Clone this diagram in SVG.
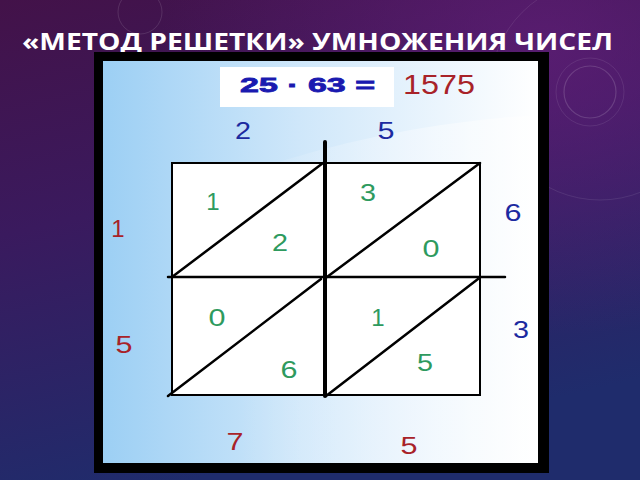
<svg xmlns="http://www.w3.org/2000/svg" width="640" height="480" viewBox="0 0 640 480">
<defs>
<linearGradient id="bg" x1="0" y1="0" x2="0.3" y2="1">
<stop offset="0" stop-color="#431249"/>
<stop offset="0.45" stop-color="#3a1a5e"/>
<stop offset="1" stop-color="#1f2c6c"/>
</linearGradient>
<radialGradient id="glow" cx="0.85" cy="0.1" r="0.6">
<stop offset="0" stop-color="#6a2080" stop-opacity="0.6"/>
<stop offset="1" stop-color="#6a2080" stop-opacity="0"/>
</radialGradient>
<linearGradient id="pane" x1="0" y1="0" x2="1" y2="0">
<stop offset="0" stop-color="#9ccff4"/>
<stop offset="0.45" stop-color="#cfe7fa"/>
<stop offset="1" stop-color="#ffffff"/>
</linearGradient>
<linearGradient id="swoosh" x1="0" y1="0" x2="1" y2="0">
<stop offset="0" stop-color="#ffffff" stop-opacity="0"/>
<stop offset="0.6" stop-color="#ffffff" stop-opacity="0.6"/>
<stop offset="1" stop-color="#ffffff" stop-opacity="0.9"/>
</linearGradient>
<style>
.title{font-family:"Open Sans","DejaVu Sans",sans-serif;font-weight:700;font-size:23px;fill:#ffffff}
.num{font-family:"Liberation Sans",Arial,sans-serif;font-size:24px;text-anchor:middle}
.g{fill:#2e9a5e}
.b{fill:#1c2aa0}
.r{fill:#a82228}
.deco{fill:none;stroke:#ffffff;stroke-opacity:0.15}
.grid{fill:none;stroke:#000000;stroke-linecap:round}
</style>
</defs>
<rect x="0" y="0" width="640" height="480" fill="url(#bg)"/>
<rect x="0" y="0" width="640" height="480" fill="url(#glow)"/>
<g id="decor">
<circle class="deco" cx="590" cy="92" r="26" stroke-width="1.2"/>
<circle class="deco" cx="590" cy="92" r="34" stroke-width="0.6"/>
<circle class="deco" cx="600" cy="90" r="110" stroke-width="0.6"/>
<circle class="deco" cx="140" cy="12" r="22" stroke-width="0.8"/>
</g>
<text class="title" x="22" y="50" textLength="591" lengthAdjust="spacingAndGlyphs">«МЕТОД РЕШЕТКИ» УМНОЖЕНИЯ ЧИСЕЛ</text>
<g id="frame">
<rect x="94" y="52" width="455" height="421" fill="#000000"/>
<rect x="103" y="61" width="435" height="402" fill="url(#pane)"/>
<path d="M240 175 Q380 125 538 115 L538 463 L240 463 Z" fill="url(#swoosh)" opacity="0.6"/>
</g>
<g id="equation">
<rect x="220" y="67" width="174" height="40" fill="#ffffff"/>
<text x="240" y="92" font-family="Liberation Sans,Arial,sans-serif" font-weight="900" font-size="21" fill="#1a1ab0" stroke="#1a1ab0" stroke-width="0.8" textLength="135" lengthAdjust="spacingAndGlyphs">25 · 63 =</text>
<text x="403" y="94" font-family="Liberation Sans,Arial,sans-serif" font-size="27" fill="#a82228" textLength="72" lengthAdjust="spacingAndGlyphs">1575</text>
</g>
<g id="lattice">
<rect x="172" y="163" width="308" height="232" style="fill:#ffffff;stroke:#000000;stroke-width:2"/>
</g>
<g id="connectors">
<line class="grid" x1="325" y1="142" x2="325" y2="396" stroke-width="4"/>
<line class="grid" x1="168" y1="277" x2="505" y2="277" stroke-width="2.5"/>
<line class="grid" x1="172" y1="277" x2="323" y2="163" stroke-width="2.5"/>
<line class="grid" x1="327" y1="277" x2="480" y2="163" stroke-width="2.5"/>
<line class="grid" x1="168" y1="396" x2="321" y2="279" stroke-width="2.5"/>
<line class="grid" x1="326" y1="396" x2="478" y2="279" stroke-width="2.5"/>
</g>
<g id="cell-digits">
<text class="num g" x="213" y="210">1</text>
<text class="num g" x="280" y="251" textLength="16" lengthAdjust="spacingAndGlyphs">2</text>
<text class="num g" x="368" y="201" textLength="16" lengthAdjust="spacingAndGlyphs">3</text>
<text class="num g" x="431" y="257" textLength="17" lengthAdjust="spacingAndGlyphs">0</text>
<text class="num g" x="217" y="326" textLength="17" lengthAdjust="spacingAndGlyphs">0</text>
<text class="num g" x="289" y="378" textLength="17" lengthAdjust="spacingAndGlyphs">6</text>
<text class="num g" x="378" y="326">1</text>
<text class="num g" x="425" y="371" textLength="16" lengthAdjust="spacingAndGlyphs">5</text>
</g>
<g id="factors">
<text class="num b" x="243" y="139" textLength="16" lengthAdjust="spacingAndGlyphs">2</text>
<text class="num b" x="386" y="139" textLength="17" lengthAdjust="spacingAndGlyphs">5</text>
<text class="num b" x="513" y="221" textLength="17" lengthAdjust="spacingAndGlyphs">6</text>
<text class="num b" x="521" y="338" textLength="16" lengthAdjust="spacingAndGlyphs">3</text>
</g>
<g id="result">
<text class="num r" x="118" y="237">1</text>
<text class="num r" x="124" y="353" textLength="17" lengthAdjust="spacingAndGlyphs">5</text>
<text class="num r" x="235" y="450" textLength="17" lengthAdjust="spacingAndGlyphs">7</text>
<text class="num r" x="409" y="454" textLength="17" lengthAdjust="spacingAndGlyphs">5</text>
</g>
</svg>
